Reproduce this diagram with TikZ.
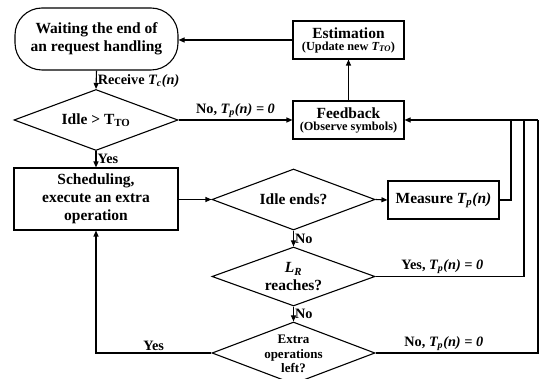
\documentclass[tikz,border=0pt]{standalone}
\usepackage{fontspec}
\setmainfont{Liberation Serif}
\usetikzlibrary{arrows.meta,shapes.geometric}
\begin{document}
\begin{tikzpicture}[x=1pt,y=-1pt, line width=1.1pt, font=\bfseries,
  box/.style={draw, rectangle, align=center, inner sep=0pt},
  dia/.style={draw, diamond, inner sep=0pt},
  big/.style={font=\fontsize{15.5}{18}\selectfont\bfseries},
  lbl/.style={font=\fontsize{14.3}{16}\selectfont\bfseries, inner sep=1pt},
  arr/.style={-{Triangle[length=6pt,width=5pt]}}]
\useasboundingbox (0,0) rectangle (539,379);
\begin{scope}
\clip (0,0) rectangle (539,379);
% boxes
\node[box, rounded corners=27pt, minimum width=163pt, minimum height=62pt, big] (wait) at (96.5,39) {Waiting the end of\\an request handling};
\node[box, minimum width=111pt, minimum height=38pt] (est) at (348.5,40)
  {{\fontsize{15.5}{17}\selectfont Estimation}\\{\fontsize{12.3}{14}\selectfont (Update new \textit{T\textsubscript{TO}})}};
\node[box, minimum width=111pt, minimum height=38pt] (fb) at (348.5,120)
  {{\fontsize{15.5}{17}\selectfont Feedback}\\{\fontsize{12.3}{14}\selectfont (Observe symbols)}};
\node[box, minimum width=164pt, minimum height=62pt, big] (sched) at (96,199) {Scheduling,\\execute an extra\\operation};
\node[box, minimum width=111pt, minimum height=38pt, big] (meas) at (443.5,200) {Measure \textit{T\textsubscript{p}(n)}};
% diamonds
\node[dia, minimum width=164pt, minimum height=61pt] (d1) at (96,120) {};
\node[big] (d1t) at (96,120) {Idle > T\textsubscript{TO}};
\node[dia, minimum width=163pt, minimum height=61pt] (d2) at (293.5,199.5) {};
\node[big] (d2t) at (293.5,199.5) {Idle ends?};
\node[dia, minimum width=163pt, minimum height=59pt] (d3) at (293.5,276.5) {};
\node[big, align=center] (d3t) at (293.5,277) {\textit{L\textsubscript{R}}\\reaches?};
\node[dia, minimum width=163pt, minimum height=62pt] (d4) at (293.5,353) {};
\node[align=center, font=\fontsize{13}{14.5}\selectfont\bfseries] (d4t) at (293.5,354) {Extra\\operations\\left?};
% right bus coordinates
\coordinate (b1) at (511,120);
\coordinate (b2) at (524,120);
\coordinate (b3) at (538,120);
% connectors
\draw[arr] (est.west) -- (est.west -| wait.east);
\draw[arr] (fb.north) -- (est.south);
\draw[arr] (wait.south) -- node[lbl, anchor=west, pos=0.55] {Receive \textit{T\textsubscript{c}(n)}} (d1.north);
\draw[arr] (d1.east) -- node[lbl, above=1pt, pos=0.5] {No, \textit{T\textsubscript{p}(n) = 0}} (fb.west);
\draw[arr] (d1.south) -- node[lbl, anchor=west, pos=0.45] {Yes} (sched.north);
\draw[arr] (sched.east |- d2.west) -- (d2.west);
\draw[arr] (d2.east) -- (meas.west);
\draw[arr] (d2.south) -- node[lbl, anchor=west, pos=0.5] {No} (d3.north);
\draw[arr] (d3.south) -- node[lbl, anchor=west, pos=0.5] {No} (d4.north);
\draw (meas.east) -| (b1);
\draw (d3.east) -- node[lbl, above=1pt, pos=0.45] {Yes, \textit{T\textsubscript{p}(n) = 0}} (d3.east -| b2) -- (b2);
\draw (d4.east) -- node[lbl, above=1pt, pos=0.42] {No, \textit{T\textsubscript{p}(n) = 0}} (d4.east -| b3) -- (b3);
\draw[arr] (b3) -- (fb.east);
\draw[arr] (d4.west) -- node[lbl, above=1pt, pos=0.5] {Yes} (d4.west -| sched.south) -- (sched.south);
\end{scope}
\end{tikzpicture}
\end{document}
